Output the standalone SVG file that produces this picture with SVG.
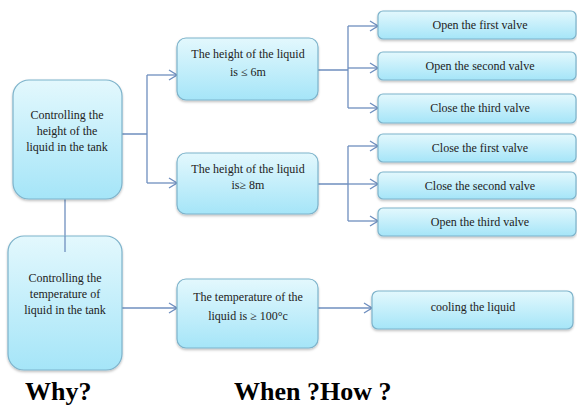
<svg xmlns="http://www.w3.org/2000/svg" width="577" height="407" viewBox="0 0 577 407">
<style>
.box{fill:url(#g);stroke:#7db3cb;stroke-width:1.2;filter:url(#sh)}
.t{font-family:"Liberation Serif","DejaVu Serif",serif;font-size:12px;fill:#222;text-anchor:middle}
.c{fill:none;stroke:#6f8fbf;stroke-width:1.3}
.h{font-family:"Liberation Serif","Times New Roman",serif;font-size:26px;font-weight:bold;fill:#000}
</style>
<defs>
<linearGradient id="g" x1="0" y1="0" x2="0" y2="1">
<stop offset="0" stop-color="#e3f8fd"/>
<stop offset="1" stop-color="#a5e5f8"/>
</linearGradient>
<filter id="sh" x="-10%" y="-10%" width="120%" height="130%">
<feDropShadow dx="0" dy="1.5" stdDeviation="1.2" flood-color="#000" flood-opacity="0.25"/>
</filter>
<marker id="a" markerWidth="10" markerHeight="12" refX="9" refY="6" orient="auto" markerUnits="userSpaceOnUse">
<path d="M1,1 L9,6 L1,11" fill="none" stroke="#6f8fbf" stroke-width="1.3"/>
</marker>
</defs>
<rect width="577" height="407" fill="#fff"/>
<g id="connectors">
<path class="c" d="M65,199 V252"/>
<path class="c" d="M122,134 H147 M147,75 V183"/>
<path class="c" d="M147,75 H177" marker-end="url(#a)"/>
<path class="c" d="M147,183 H177" marker-end="url(#a)"/>
<path class="c" d="M122,308 H177" marker-end="url(#a)"/>
<path class="c" d="M318,70 H348 M348,26 V108"/>
<path class="c" d="M348,26 H378" marker-end="url(#a)"/>
<path class="c" d="M348,68 H378" marker-end="url(#a)"/>
<path class="c" d="M348,108 H378" marker-end="url(#a)"/>
<path class="c" d="M318,184 H348 M348,146 V221"/>
<path class="c" d="M348,146 H378" marker-end="url(#a)"/>
<path class="c" d="M348,184 H378" marker-end="url(#a)"/>
<path class="c" d="M348,221 H378" marker-end="url(#a)"/>
<path class="c" d="M318,308 H372" marker-end="url(#a)"/>
</g>
<g id="why1"><rect class="box" x="13" y="80" width="109" height="119" rx="16"/>
<text class="t" x="67" y="119">Controlling the</text><text class="t" x="67" y="135">height of the</text><text class="t" x="67" y="151">liquid in the tank</text></g>
<g id="why2"><rect class="box" x="8" y="236" width="114" height="134" rx="16"/>
<text class="t" x="65" y="282">Controlling the</text><text class="t" x="65" y="298">temperature of</text><text class="t" x="65" y="314">liquid in the tank</text></g>
<path class="c" d="M65,236 V252"/>
<g id="when1"><rect class="box" x="177" y="38" width="141" height="62" rx="9"/>
<text class="t" x="248" y="58">The height of the liquid</text><text class="t" x="248" y="76">is ≤ 6m</text></g>
<g id="when2"><rect class="box" x="177" y="153" width="141" height="61" rx="9"/>
<text class="t" x="248" y="173">The height of the liquid</text><text class="t" x="248" y="189">is≥ 8m</text></g>
<g id="when3"><rect class="box" x="177" y="279" width="141" height="69" rx="9"/>
<text class="t" x="248" y="301">The temperature of the</text><text class="t" x="248" y="320">liquid is ≥ 100°c</text></g>
<g id="how1"><rect class="box" x="378" y="11" width="198" height="28" rx="5"/><text class="t" x="480" y="29">Open the first valve</text></g>
<g id="how2"><rect class="box" x="378" y="52" width="198" height="28" rx="5"/><text class="t" x="480" y="70">Open the second valve</text></g>
<g id="how3"><rect class="box" x="378" y="94" width="198" height="29" rx="5"/><text class="t" x="480" y="112">Close the third valve</text></g>
<g id="how4"><rect class="box" x="378" y="134" width="198" height="28" rx="5"/><text class="t" x="480" y="152">Close the first valve</text></g>
<g id="how5"><rect class="box" x="378" y="172" width="198" height="27" rx="5"/><text class="t" x="480" y="190">Close the second valve</text></g>
<g id="how6"><rect class="box" x="378" y="208" width="198" height="28" rx="5"/><text class="t" x="480" y="226">Open the third valve</text></g>
<g id="how7"><rect class="box" x="372" y="291" width="201" height="38" rx="6"/><text class="t" x="473" y="311">cooling the liquid</text></g>
<text class="h" x="25" y="400">Why?</text>
<text class="h" x="234" y="400">When ?How ?</text>
</svg>
